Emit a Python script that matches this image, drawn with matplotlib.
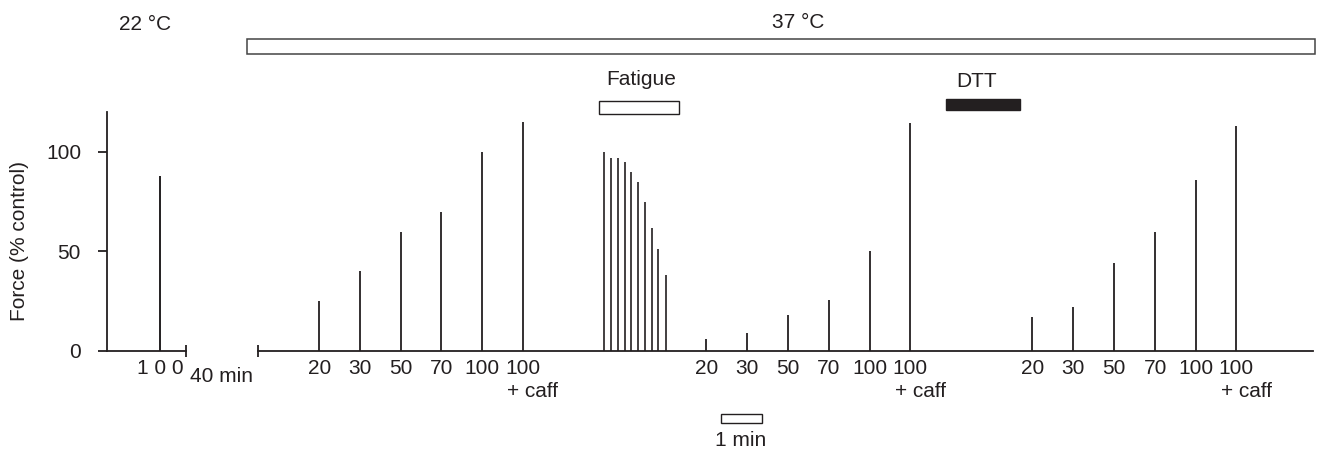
import matplotlib
matplotlib.use("Agg")
from matplotlib import pyplot as plt
from matplotlib.patches import Rectangle

plt.rcParams['font.family'] = ['Liberation Sans', 'DejaVu Sans']

# temps en minutes, force en % du controle
t_ctrl = [1.30]
f_ctrl = [88]
lab_ctrl = ["1 0 0"]

t_set1 = [5.20, 6.20, 7.20, 8.19, 9.19, 10.20]
f_set1 = [25, 40, 60, 70, 100, 115]

t_fat = [12.18, 12.35, 12.52, 12.69, 12.85, 13.02, 13.18, 13.35, 13.51, 13.69]
f_fat = [100, 97, 97, 95, 90, 85, 75, 62, 51, 38]

t_set2 = [14.69, 15.69, 16.69, 17.69, 18.70, 19.69]
f_set2 = [6, 9, 18, 25.5, 50, 114.5]

t_set3 = [22.68, 23.68, 24.68, 25.69, 26.68, 27.68]
f_set3 = [17, 22, 44, 60, 86, 113]

freq_labels = ["20", "30", "50", "70", "100", "100"]

fatigue_span = (12.07, 14.03)
dtt_span = (20.56, 22.38)
warm_span = (3.42, 29.61)
scale_span = (15.05, 16.05)

col = '#231f20'
fs = 15
W, H = 1317, 451

fig = plt.figure(figsize=(W / 100, H / 100), dpi=100)
ax1 = fig.add_axes([107 / W, 100 / H, 79 / W, 239 / H])
ax2 = fig.add_axes([258 / W, 100 / H, 1055 / W, 239 / H])
ax1.set_xlim(0, 1.936)
ax2.set_xlim(3.70, 29.56)
for ax in (ax1, ax2):
    ax.set_ylim(0, 120)
    ax.patch.set_alpha(0)
    for s in ['top', 'right']:
        ax.spines[s].set_visible(False)
    ax.spines['bottom'].set_linewidth(1.3)
    ax.spines['bottom'].set_color(col)
    ax.tick_params(axis='x', which='major', length=0, pad=6, labelsize=fs, colors=col)
    ax.tick_params(axis='x', which='minor', direction='inout', length=8, width=1.3, color=col)

ax1.spines['left'].set_linewidth(1.3)
ax1.spines['left'].set_color(col)
ax1.set_yticks([0, 50, 100])
ax1.tick_params(axis='y', direction='out', length=6.2, width=1.3, pad=12.5, labelsize=fs, colors=col)
ax2.spines['left'].set_visible(False)
ax2.set_yticks([])

# barres
ax1.vlines(t_ctrl, 0, f_ctrl, color=col, lw=1.4)
for t, f in [(t_set1, f_set1), (t_set2, f_set2), (t_set3, f_set3)]:
    ax2.vlines(t, 0, f, color=col, lw=1.3)
ax2.vlines(t_fat, 0, f_fat, color=col, lw=1.2)

# ticks et labels
ax1.set_xticks(t_ctrl)
ax1.set_xticklabels(lab_ctrl)
ax1.set_xticks([1.936], minor=True)
ax2.set_xticks(t_set1 + t_set2 + t_set3)
ax2.set_xticklabels(freq_labels * 3)
ax2.set_xticks([3.70], minor=True)
for t in [t_set1[-1], t_set2[-1], t_set3[-1]]:
    ax2.text(t + 0.24, -20.2, "+ caff", ha='center', va='center', fontsize=fs, color=col, clip_on=False)

ax1.text(2.03, -13, "40 min", ha='left', va='center', fontsize=fs, color=col, clip_on=False)
ax1.text(0.93, 163.8, "22 °C", ha='center', va='center', fontsize=fs, color=col, clip_on=False)

# boites du protocole
ax2.add_patch(Rectangle((warm_span[0], 149.2), warm_span[1] - warm_span[0], 7.4,
                        fc='white', ec='#444444', lw=1.1, clip_on=False))
ax2.text(16.95, 165, "37 °C", ha='center', va='center', fontsize=fs, color=col, clip_on=False)

ax2.add_patch(Rectangle((fatigue_span[0], 119.1), fatigue_span[1] - fatigue_span[0], 6.2,
                        fc='white', ec=col, lw=1.0, clip_on=False))
ax2.text(13.1, 136.2, "Fatigue", ha='center', va='center', fontsize=fs, color=col, clip_on=False)

ax2.add_patch(Rectangle((dtt_span[0], 120.8), dtt_span[1] - dtt_span[0], 5.7,
                        fc=col, ec=col, lw=1.0, clip_on=False))
ax2.text(21.32, 135.3, "DTT", ha='center', va='center', fontsize=fs, color=col, clip_on=False)

ax2.add_patch(Rectangle((scale_span[0], -36.3), scale_span[1] - scale_span[0], 4.5,
                        fc='white', ec=col, lw=1.0, clip_on=False))
ax2.text(15.54, -44.7, "1 min", ha='center', va='center', fontsize=fs, color=col, clip_on=False)

fig.text(20 / W, 1 - 241 / H, "Force (% control)", rotation=90, ha='center', va='center',
         fontsize=fs, color=col)

plt.savefig("out.png", dpi=100)
plt.close()
